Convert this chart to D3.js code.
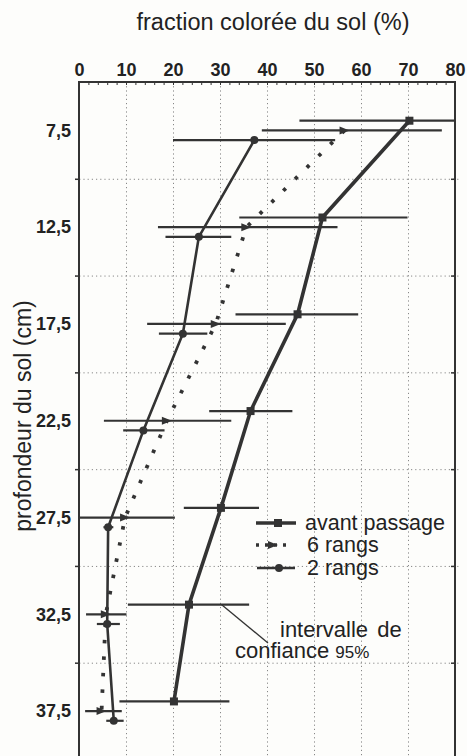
<!DOCTYPE html>
<html>
<head>
<meta charset="utf-8">
<script src="https://cdn.jsdelivr.net/npm/d3@7/dist/d3.min.js"></script>
<style>
  body { margin: 0; background: #fdfdfb; }
  svg { display: block; font-family: "Liberation Sans", Arial, sans-serif; }
</style>
</head>
<body>
<div id="chart"></div>
<script>
// chart size (matches the window)
var width = 467;
var height = 756;

// tick labels
var xTicks = [0, 10, 20, 30, 40, 50, 60, 70, 80];
var depthLabels = [7.5, 12.5, 17.5, 22.5, 27.5, 32.5, 37.5];
var gridDepths = [10, 15, 20, 25, 30, 35];

// series: depth (cm), value (%), low and high of the 95% interval
var avantDepth = [7, 12, 17, 22, 27, 32, 37];
var avantValue = [70.3, 51.8, 46.5, 36.5, 30.2, 23.4, 20.2];
var avantLow   = [46.9, 34.1, 33.3, 27.7, 22.3, 10.4, 8.6];
var avantHigh  = [80, 69.9, 59.4, 45.4, 38.3, 36.2, 32.0];

var six6Depth = [7.5, 12.5, 17.5, 22.5, 27.5, 32.5, 37.5];
var six6Value = [56.5, 35.6, 29.1, 18.7, 9.8, 5.7, 4.8];
var six6Low   = [38.9, 16.8, 14.5, 5.3, 0, 1.5, 1.3];
var six6High  = [77.2, 55.0, 44.0, 32.4, 20.4, 10.1, 9.1];

var two2Depth = [8, 13, 18, 23, 28, 33, 38];
var two2Value = [37.3, 25.5, 22.1, 13.7, 6.2, 6.0, 7.4];
var two2Low   = [20.0, 18.4, 17.0, 9.4, 5.2, 3.8, 5.8];
var two2High  = [54.5, 32.4, 27.3, 18.2, 7.3, 8.7, 9.5];

var ink = "#333";

var svg = d3.select("#chart").append("svg")
	.attr("width", width)
	.attr("height", height);

var x = d3.scaleLinear().domain([0, 80]).range([79, 455]);
var y = d3.scaleLinear().domain([5, 40]).range([82, 759.5]);

var comma = d3.formatLocale({decimal: ",", thousands: ".", grouping: [3], currency: ["", ""]}).format(".1f");

//Dotted grid
svg.append("g")
	.attr("transform", "translate(0," + y(5) + ")")
	.call(d3.axisBottom(x).tickValues([10, 20, 30, 40, 50, 60, 70]).tickSize(y(40) - y(5)).tickFormat(""))
	.call(function(g) {
		g.select(".domain").remove();
		g.selectAll("line").attr("stroke", "#888").attr("stroke-dasharray", "1.2,3");
	});
svg.append("g")
	.attr("transform", "translate(" + (x(0) - 4) + ",0)")
	.call(d3.axisRight(y).tickValues(gridDepths).tickSize(x(80) - x(0) + 8).tickFormat(""))
	.call(function(g) {
		g.select(".domain").remove();
		g.selectAll("line").attr("stroke", "#888").attr("stroke-dasharray", "1.2,3");
	});
// solid small ticks at both ends of the horizontal grid
svg.append("g")
	.attr("transform", "translate(" + x(0) + ",0)")
	.call(d3.axisLeft(y).tickValues(gridDepths).tickSize(4).tickFormat(""))
	.call(function(g) { g.select(".domain").remove(); g.selectAll("line").attr("stroke", ink).attr("stroke-width", 1.5); });
svg.append("g")
	.attr("transform", "translate(" + x(80) + ",0)")
	.call(d3.axisRight(y).tickValues(gridDepths).tickSizeInner(-4).tickSizeOuter(0).tickFormat(""))
	.call(function(g) { g.select(".domain").remove(); g.selectAll("line").attr("stroke", ink).attr("stroke-width", 1.5); });

//Top axis: minor ticks and labels
svg.append("g")
	.attr("transform", "translate(0," + y(5) + ")")
	.call(d3.axisTop(x).ticks(40).tickSizeInner(-3).tickSizeOuter(0).tickFormat(""))
	.call(function(g) { g.select(".domain").remove(); g.selectAll("line").attr("stroke", ink).attr("stroke-width", 1); });
svg.append("g")
	.attr("transform", "translate(0," + (y(5) - 6) + ")")
	.call(d3.axisTop(x).tickValues(xTicks).tickSize(0).tickPadding(0))
	.call(function(g) {
		g.select(".domain").remove();
		g.selectAll("text").attr("font-size", 18).attr("font-weight", "bold").attr("fill", "#222")
			.attr("font-family", "'Liberation Sans', Arial, sans-serif");
	});

//Left axis labels
svg.append("g")
	.attr("transform", "translate(" + (x(0) - 8) + ",0)")
	.call(d3.axisLeft(y).tickValues(depthLabels).tickSize(0).tickPadding(0).tickFormat(comma))
	.call(function(g) {
		g.select(".domain").remove();
		g.selectAll("text").attr("font-size", 18).attr("font-weight", "bold").attr("fill", "#222")
			.attr("font-family", "'Liberation Sans', Arial, sans-serif");
	});

//Frame
svg.append("path")
	.attr("d", "M" + x(0) + "," + (height + 5) + "V" + y(5) + "H" + x(80) + "V" + (height + 5))
	.attr("fill", "none")
	.attr("stroke", ink)
	.attr("stroke-width", 2);

//Titles
svg.append("text")
	.attr("x", 273).attr("y", 30)
	.attr("text-anchor", "middle")
	.attr("font-size", 23.5).attr("fill", "#222")
	.text("fraction colorée du sol (%)");
svg.append("text")
	.attr("transform", "translate(31,416) rotate(-90)")
	.attr("text-anchor", "middle")
	.attr("font-size", 23).attr("fill", "#222")
	.text("profondeur du sol (cm)");

function zipSeries(depth, value, low, high) {
	return depth.map(function(d, i) { return {depth: d, value: value[i], low: low[i], high: high[i]}; });
}
var avant = zipSeries(avantDepth, avantValue, avantLow, avantHigh);
var six6 = zipSeries(six6Depth, six6Value, six6Low, six6High);
var two2 = zipSeries(two2Depth, two2Value, two2Low, two2High);

var line = d3.line()
	.x(function(d) { return x(d.value); })
	.y(function(d) { return y(d.depth); });

var plot = svg.append("g");

//Confidence intervals
[avant, six6, two2].forEach(function(s) {
	plot.append("g").selectAll("line")
		.data(s)
		.enter()
		.append("line")
		.attr("x1", function(d) { return x(d.low); })
		.attr("x2", function(d) { return x(d.high); })
		.attr("y1", function(d) { return y(d.depth); })
		.attr("y2", function(d) { return y(d.depth); })
		.attr("stroke", ink)
		.attr("stroke-width", 2.2);
});

//Lines
plot.append("path").datum(avant)
	.attr("d", line).attr("fill", "none").attr("stroke", ink).attr("stroke-width", 3.6);
plot.append("path").datum(two2)
	.attr("d", line).attr("fill", "none").attr("stroke", ink).attr("stroke-width", 2.6);
plot.append("path").datum(six6)
	.attr("d", line).attr("fill", "none").attr("stroke", ink).attr("stroke-width", 3.8)
	.attr("stroke-dasharray", "3.5,13");

//Markers
function square(g, cx, cy) {
	g.append("rect").attr("x", cx - 4).attr("y", cy - 4).attr("width", 8).attr("height", 8).attr("fill", ink);
}
function dot(g, cx, cy) {
	g.append("circle").attr("cx", cx).attr("cy", cy).attr("r", 4).attr("fill", ink);
}
function arrow(g, cx, cy) {
	g.append("path").attr("d", "M" + (cx - 5) + "," + (cy - 4) + "L" + (cx + 5) + "," + cy + "L" + (cx - 5) + "," + (cy + 4) + "Z").attr("fill", ink);
}
avant.forEach(function(d) { square(plot, x(d.value), y(d.depth)); });
two2.forEach(function(d) { dot(plot, x(d.value), y(d.depth)); });
six6.forEach(function(d) { arrow(plot, x(d.value), y(d.depth)); });

//Legend
var legend = svg.append("g").attr("font-size", 21.5).attr("fill", "#222");
var legendRows = [
	{label: "avant passage", y: 523, x1: 256, x2: 296, mark: square, mx: 278, w: 3.6, dash: null},
	{label: "6 rangs", y: 545, x1: 256, x2: 291, mark: arrow, mx: 273, w: 3.6, dash: "3,6"},
	{label: "2 rangs", y: 568, x1: 257, x2: 295, mark: dot, mx: 279, w: 2.6, dash: null}
];
legendRows.forEach(function(r) {
	legend.append("line")
		.attr("x1", r.x1).attr("x2", r.x2).attr("y1", r.y).attr("y2", r.y)
		.attr("stroke", ink).attr("stroke-width", r.w)
		.attr("stroke-dasharray", r.dash);
	r.mark(legend, r.mx, r.y);
	legend.append("text").attr("x", r.label === "avant passage" ? 305 : 307).attr("y", r.y + 6.5).text(r.label);
});

//Annotation for the confidence interval
svg.append("line")
	.attr("x1", 221.7).attr("y1", y(32))
	.attr("x2", 268).attr("y2", 643)
	.attr("stroke", ink).attr("stroke-width", 1.3);
svg.append("text").attr("x", 280).attr("y", 637).attr("font-size", 22).attr("fill", "#222")
	.attr("word-spacing", 3)
	.text("intervalle de");
var conf = svg.append("text").attr("x", 235).attr("y", 658).attr("font-size", 22).attr("fill", "#222");
conf.append("tspan").text("confiance ");
conf.append("tspan").attr("font-size", 17).text("95%");
</script>
</body>
</html>
